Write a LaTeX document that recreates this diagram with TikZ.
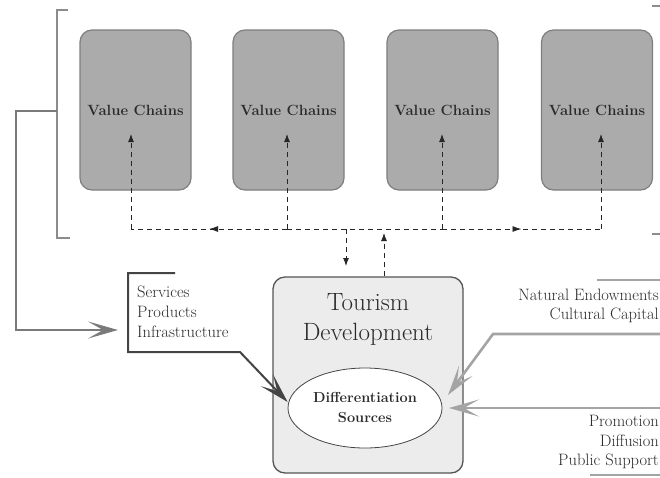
\documentclass[tikz,border=0pt]{standalone}
\usetikzlibrary{arrows.meta,shapes.geometric,decorations.markings}
\definecolor{vcfill}{HTML}{ABABAB}
\definecolor{vcborder}{HTML}{7E7E7E}
\definecolor{tdfill}{HTML}{ECECEC}
\definecolor{tdborder}{HTML}{555555}
\definecolor{txt}{HTML}{2A2A2A}
\definecolor{darkarrow}{HTML}{444444}
\definecolor{midgray}{HTML}{7A7A7A}
\definecolor{lightarrow}{HTML}{A4A4A4}
\definecolor{brgray}{HTML}{8C8C8C}
\begin{document}
\begin{tikzpicture}[x=1pt,y=-1pt,
  vc/.style={draw=vcborder, fill=vcfill, rounded corners=12pt, minimum width=111pt,
    minimum height=160pt, line width=1.2pt, text=txt,
    font=\fontsize{14.8}{17}\selectfont\bfseries},
  tdbox/.style={draw=tdborder, fill=tdfill, rounded corners=12pt, minimum width=190pt,
    minimum height=196pt, line width=1.3pt},
  ell/.style={ellipse, draw=darkarrow, fill=white, minimum width=154pt, minimum height=80pt,
    inner sep=0pt, line width=0.8pt, align=center, text=txt,
    font=\fontsize{14.5}{20}\selectfont\bfseries},
  lbl/.style={text=txt, font=\fontsize{16.5}{20}\selectfont, inner sep=0pt},
  bigtxt/.style={text=txt, font=\fontsize{25}{30}\selectfont, inner sep=0pt},
  dasharrow/.style={draw=black!85, line width=0.9pt, dash pattern=on 5pt off 4pt,
    -{Latex[length=8pt,width=6pt]}},
  dashline/.style={draw=black!85, line width=0.9pt, dash pattern=on 5pt off 4pt},
  midarrow/.style={dashline, postaction={decorate},
    decoration={markings, mark=at position 0.5 with {\arrow{Latex[length=9pt,width=6pt]}}}},
  bracketline/.style={draw=brgray, line width=1.8pt},
  bigtip/.tip={Stealth[length=30pt,width=17pt,inset=15pt]},
  grayarrow/.style={draw=midgray, line width=2pt, -bigtip},
  darkpath/.style={draw=darkarrow, line width=2pt, -bigtip},
  lightpath/.style={draw=lightarrow, line width=2.6pt, -bigtip},
  lightline/.style={draw=lightarrow, line width=2.2pt}
]
\useasboundingbox (0,0) rectangle (660,477);

% value chain boxes
\node[vc] (v1) at (135.5,110) {Value Chains};
\node[vc] (v2) at (288.5,110) {Value Chains};
\node[vc] (v3) at (442.5,110) {Value Chains};
\node[vc] (v4) at (597,110) {Value Chains};

% tourism development box
\node[tdbox] (td) at (368,375) {};
\node[bigtxt, anchor=base] (tdt1) at (368,310) {Tourism};
\node[bigtxt, anchor=base] (tdt2) at (368,340) {Development};
\node[ell] (ds) at (365,408) {Differentiation\\Sources};

% dashed network
\coordinate (h1) at (131,229);
\coordinate (h2) at (287,229);
\coordinate (h3) at (442,229);
\coordinate (h4) at (601,229);
\coordinate (t1) at (131,134);
\coordinate (t2) at (287,134);
\coordinate (t3) at (442,134);
\coordinate (t4) at (601,134);
\draw[midarrow] (h2) -- (h1);
\draw[dashline] (h2) -- (h3);
\draw[midarrow] (h3) -- (h4);
\draw[dasharrow] (h1) -- (t1);
\draw[dasharrow] (h2) -- (t2);
\draw[dasharrow] (h3) -- (t3);
\draw[dasharrow] (h4) -- (t4);
\coordinate (dn) at (346,229);
\coordinate (dnt) at (346,266);
\coordinate (upt) at (384,233);
\draw[dasharrow] (dn) -- (dnt);
\draw[dasharrow] (td.north -| upt) -- (upt);

% left bracket and gray connector
\coordinate (lbt) at (68,10);
\coordinate (lbtc) at (57,10);
\coordinate (lbbc) at (57,238);
\coordinate (lbb) at (70,238);
\coordinate (lbm) at (57,111);
\coordinate (lk1) at (16,111);
\coordinate (lk2) at (16,330);
\coordinate (lkt) at (118,330);
\draw[bracketline] (lbt) -- (lbtc) -- (lbbc) -- (lbb);
\draw[grayarrow] (lbm) -- (lk1) -- (lk2) -- (lkt);

% right bracket ticks
\coordinate (rb1) at (652,6);
\coordinate (rb1e) at (664,6);
\coordinate (rb2) at (652,234);
\coordinate (rb2e) at (664,234);
\draw[bracketline] (rb1) -- (rb1e);
\draw[bracketline] (rb2) -- (rb2e);

% services group
\node[lbl, anchor=base west] (s1) at (137,297) {Services};
\node[lbl, anchor=base west] (s2) at (137,317) {Products};
\node[lbl, anchor=base west] (s3) at (137,337) {Infrastructure};
\coordinate (sb1) at (175,273);
\coordinate (sb2) at (128,273);
\coordinate (sb3) at (128,352);
\coordinate (sb4) at (240,352);
\draw[darkpath] (sb1) -- (sb2) -- (sb3) -- (sb4) -- (ds.west |- 0,402);

% natural endowments group
\node[lbl, anchor=base east] (n1) at (659,300) {Natural Endowments};
\node[lbl, anchor=base east] (n2) at (659,319) {Cultural Capital};
\coordinate (na) at (597,280);
\coordinate (nb) at (665,280);
\draw[lightline] (na) -- (nb);
\coordinate (nc) at (665,334);
\coordinate (nd) at (493,334);
\coordinate (ne) at (448,395);
\draw[lightpath] (nc) -- (nd) -- (ne);

% promotion group
\coordinate (pa) at (665,408);
\coordinate (pb) at (449,408);
\draw[lightpath] (pa) -- (pb);
\node[lbl, anchor=base east] (p1) at (659,426) {Promotion};
\node[lbl, anchor=base east] (p2) at (659,446) {Diffusion};
\node[lbl, anchor=base east] (p3) at (659,465) {Public Support};
\coordinate (pc) at (590,475);
\coordinate (pd) at (665,475);
\draw[lightline] (pc) -- (pd);
\end{tikzpicture}
\end{document}
